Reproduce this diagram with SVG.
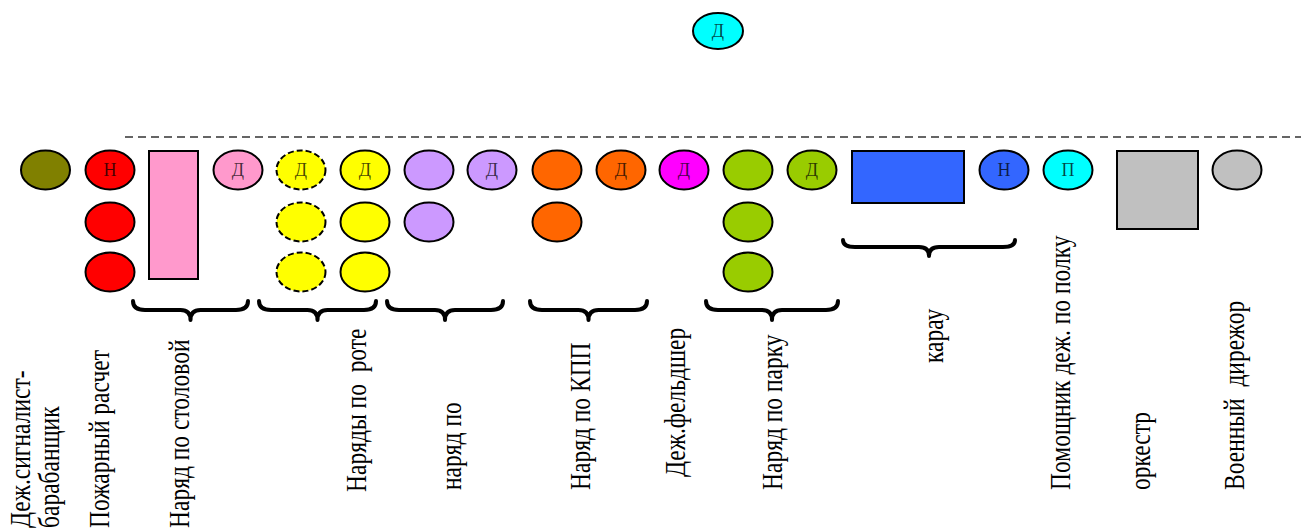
<svg xmlns="http://www.w3.org/2000/svg" width="1301" height="529" viewBox="0 0 1301 529">
<style>
.n{stroke:#000;stroke-width:2}
.dsh{stroke-dasharray:6 3}
.lt{font-family:"Liberation Serif","Times New Roman",serif;font-size:18px;fill:#000;fill-opacity:0.72;text-anchor:middle}
.lb{font-family:"Liberation Serif","Times New Roman",serif;font-size:23.5px;fill:#000;white-space:pre}
.br{fill:none;stroke:#000;stroke-width:4;stroke-linecap:round;stroke-linejoin:round}
</style>
<rect width="1301" height="529" fill="#fff"/>
<line x1="125" y1="137" x2="1301" y2="137" stroke="#333" stroke-width="1.5" stroke-dasharray="8 5"/>

<g id="top-d"><ellipse class="n" cx="718" cy="31" rx="25" ry="18" fill="#00ffff"/><text class="lt" x="718" y="37">Д</text></g>

<g id="olive"><ellipse class="n" cx="45.5" cy="170" rx="24.5" ry="19.5" fill="#808000"/></g>
<g id="red"><ellipse class="n" cx="110" cy="170" rx="24.5" ry="19.5" fill="#ff0000"/><text class="lt" x="110" y="176">Н</text>
<ellipse class="n" cx="110" cy="222" rx="24.5" ry="19.5" fill="#ff0000"/>
<ellipse class="n" cx="110" cy="272" rx="24.5" ry="19.5" fill="#ff0000"/></g>
<g id="pink"><rect class="n" x="149" y="151" width="49" height="128" fill="#ff99cc"/>
<ellipse class="n" cx="238" cy="170" rx="24.5" ry="19.5" fill="#ff99cc"/><text class="lt" x="238" y="176">Д</text></g>
<g id="yellow-dashed"><ellipse class="n dsh" cx="301" cy="170" rx="24.5" ry="19.5" fill="#ffff00"/><text class="lt" x="301" y="176">Д</text>
<ellipse class="n dsh" cx="301" cy="222" rx="24.5" ry="19.5" fill="#ffff00"/>
<ellipse class="n dsh" cx="301" cy="272" rx="24.5" ry="19.5" fill="#ffff00"/></g>
<g id="yellow"><ellipse class="n" cx="365" cy="170" rx="24.5" ry="19.5" fill="#ffff00"/><text class="lt" x="365" y="176">Д</text>
<ellipse class="n" cx="365" cy="222" rx="24.5" ry="19.5" fill="#ffff00"/>
<ellipse class="n" cx="365" cy="272" rx="24.5" ry="19.5" fill="#ffff00"/></g>
<g id="lavender"><ellipse class="n" cx="429" cy="170" rx="24.5" ry="19.5" fill="#cc99ff"/>
<ellipse class="n" cx="429" cy="222" rx="24.5" ry="19.5" fill="#cc99ff"/>
<ellipse class="n" cx="492" cy="170" rx="24.5" ry="19.5" fill="#cc99ff"/><text class="lt" x="492" y="176">Д</text></g>
<g id="orange"><ellipse class="n" cx="557" cy="170" rx="24.5" ry="19.5" fill="#ff6600"/>
<ellipse class="n" cx="557" cy="222" rx="24.5" ry="19.5" fill="#ff6600"/>
<ellipse class="n" cx="621" cy="170" rx="24.5" ry="19.5" fill="#ff6600"/><text class="lt" x="621" y="176">Д</text></g>
<g id="magenta"><ellipse class="n" cx="684" cy="170" rx="24.5" ry="19.5" fill="#ff00ff"/><text class="lt" x="684" y="176">Д</text></g>
<g id="green"><ellipse class="n" cx="748" cy="170" rx="24.5" ry="19.5" fill="#99cc00"/>
<ellipse class="n" cx="748" cy="222" rx="24.5" ry="19.5" fill="#99cc00"/>
<ellipse class="n" cx="748" cy="272" rx="24.5" ry="19.5" fill="#99cc00"/>
<ellipse class="n" cx="812" cy="170" rx="24.5" ry="19.5" fill="#99cc00"/><text class="lt" x="812" y="176">Д</text></g>
<g id="blue"><rect class="n" x="852" y="151" width="112" height="52" fill="#3366ff"/>
<ellipse class="n" cx="1004" cy="170" rx="24.5" ry="19.5" fill="#3366ff"/><text class="lt" x="1004" y="176">Н</text></g>
<g id="cyan"><ellipse class="n" cx="1068" cy="170" rx="24.5" ry="19.5" fill="#00ffff"/><text class="lt" x="1068" y="176">П</text></g>
<g id="grey"><rect class="n" x="1117" y="151" width="81" height="78" fill="#c0c0c0"/>
<ellipse class="n" cx="1237" cy="170" rx="24.5" ry="19.5" fill="#c0c0c0"/></g>

<g id="braces">
<path class="br" d="M133 301 Q133 310 145 310 H180.5 Q190.5 310 190.5 320 Q190.5 310 200.5 310 H236 Q248 310 248 301"/>
<path class="br" d="M259 301 Q259 310 271 310 H307.5 Q317.5 310 317.5 320 Q317.5 310 327.5 310 H364 Q376 310 376 301"/>
<path class="br" d="M387 301 Q387 310 399 310 H435 Q445 310 445 320 Q445 310 455 310 H491 Q503 310 503 301"/>
<path class="br" d="M530 301 Q530 310 542 310 H578.5 Q588.5 310 588.5 320 Q588.5 310 598.5 310 H635 Q647 310 647 301"/>
<path class="br" d="M706 301 Q706 310 718 310 H762 Q772 310 772 320 Q772 310 782 310 H826 Q838 310 838 301"/>
<path class="br" d="M843 240 Q843 247 855 247 H919 Q929 247 929 256 Q929 247 939 247 H1003 Q1015 247 1015 240"/>
</g>

<g id="labels">
<text class="lb" transform="translate(30,528) rotate(-90) scale(1,1.28)">Деж.сигналист-</text>
<text class="lb" transform="translate(59,528) rotate(-90) scale(1,1.28)">барабанщик</text>
<text class="lb" transform="translate(109,528) rotate(-90) scale(1,1.28)">Пожарный расчет</text>
<text class="lb" transform="translate(189,528) rotate(-90) scale(1,1.28)">Наряд по столовой</text>
<text class="lb" transform="translate(366,492) rotate(-90) scale(1,1.28)">Наряды по  роте</text>
<text class="lb" transform="translate(461,490) rotate(-90) scale(1,1.28)">наряд по</text>
<text class="lb" transform="translate(590,490) rotate(-90) scale(1,1.28)">Наряд по КПП</text>
<text class="lb" transform="translate(685,477) rotate(-90) scale(1,1.28)">Деж.фельдшер</text>
<text class="lb" transform="translate(782,490) rotate(-90) scale(1,1.28)">Наряд по парку</text>
<text class="lb" transform="translate(943,363) rotate(-90) scale(1,1.28)">карау</text>
<text class="lb" transform="translate(1070,490) rotate(-90) scale(1,1.28)">Помощник деж. по полку</text>
<text class="lb" transform="translate(1150,490) rotate(-90) scale(1,1.28)">оркестр</text>
<text class="lb" transform="translate(1244,490) rotate(-90) scale(1,1.28)">Военный  дирежор</text>
</g>
</svg>
